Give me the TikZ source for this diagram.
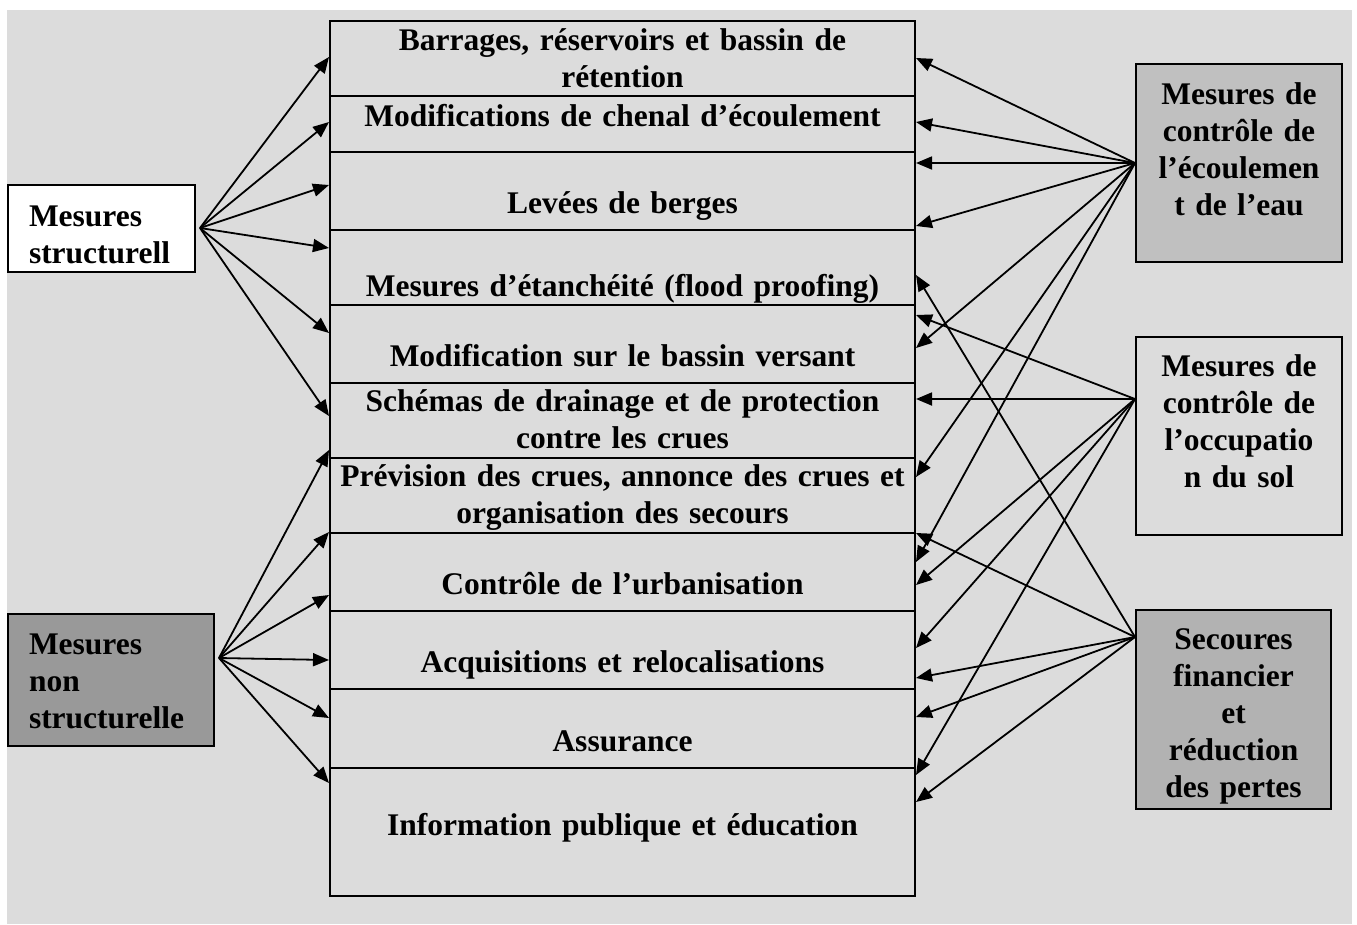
\documentclass[tikz,border=0pt]{standalone}
\usepackage{fontspec}
\setmainfont{Liberation Serif}
\usetikzlibrary{arrows.meta}
\definecolor{paper}{RGB}{220,220,220}
\definecolor{darkbox}{RGB}{153,153,153}
\definecolor{flowbox}{RGB}{192,192,192}
\definecolor{lossbox}{RGB}{178,178,178}
\tikzset{
	rowbox/.style 2 args={draw, line width=2pt, inner sep=0pt, text width=585pt, align=center, anchor=north, text height=#1, text depth=#2},
	sidebox/.style={draw, line width=2pt, inner ysep=0pt, text height=40pt, anchor=north west},
	arr/.style={line width=1.8pt, -{Triangle[length=16pt,width=13pt]}}
}

\begin{document}
\begin{tikzpicture}[x=1pt, y=-1pt, font=\fontsize{31.5}{37}\selectfont\bfseries]
		%%%%% START %%%%%
		\useasboundingbox (0,0) rectangle (1357,924);
		\fill[paper] (7,10) rectangle (1352,924);
		
		% the list of measures
		\node[rowbox={29pt}{46pt}] (r1) at (622.5,20) {Barrages, réservoirs et bassin de\\rétention};
		\node[rowbox={30pt}{26pt}] (r2) at (622.5,95) {Modifications de chenal d’écoulement};
		\node[rowbox={61pt}{17pt}] (r3) at (622.5,151) {Levées de berges};
		\node[rowbox={66pt}{9pt}] (r4) at (622.5,229) {Mesures d’étanchéité (flood proofing)};
		\node[rowbox={61pt}{17pt}] (r5) at (622.5,304) {Modification sur le bassin versant};
		\node[rowbox={28pt}{47pt}] (r6) at (622.5,382) {Schémas de drainage et de protection\\contre les crues};
		\node[rowbox={28pt}{47pt}] (r7) at (622.5,457) {Prévision des crues, annonce des crues et\\organisation des secours};
		\node[rowbox={61pt}{17pt}] (r8) at (622.5,532) {Contrôle de l’urbanisation};
		\node[rowbox={61pt}{17pt}] (r9) at (622.5,610) {Acquisitions et relocalisations};
		\node[rowbox={62pt}{17pt}] (r10) at (622.5,688) {Assurance};
		\node[rowbox={67pt}{61pt}] (r11) at (622.5,767) {Information publique et éducation};
		
		% left boxes
		\node[sidebox, fill=white, inner xsep=21pt, text width=145pt, align=left, text height=41pt, text depth=46pt] (struct) at (7,184) {Mesures\\structurell};
		\node[sidebox, fill=darkbox, inner xsep=21pt, text width=164pt, align=left, text depth=92pt] (nonstruct) at (7,613) {Mesures\\non\\structurelle};
		
		% right boxes
		\node[sidebox, fill=flowbox, inner xsep=10pt, text width=186pt, align=center, text depth=158pt] (flow) at (1135,63) {Mesures de\\contrôle de\\l’écoulemen\\t de l’eau};
		\node[sidebox, fill=paper, inner xsep=10pt, text width=186pt, align=center, text height=39pt, text depth=159pt] (occup) at (1135,336) {Mesures de\\contrôle de\\l’occupatio\\n du sol};
		\node[sidebox, fill=lossbox, inner xsep=10pt, text width=175pt, align=center, text height=39pt, text depth=160pt] (loss) at (1135,609) {Secoures\\financier\\et\\réduction\\des pertes};
		
		\coordinate (structout) at (200,228);
		\coordinate (nonout) at (219,658);
		\coordinate (flowout) at (1135,163);
		\coordinate (occupout) at (1135,399);
		\coordinate (lossout) at (1135,637);
		
		% structural
		\draw[arr] (structout) -- (r1.west |- 0,57);
		\draw[arr] (structout) -- (r2.west |- 0,122);
		\draw[arr] (structout) -- (r3.west |- 0,185);
		\draw[arr] (structout) -- (r4.west |- 0,248);
		\draw[arr] (structout) -- (r5.west |- 0,333);
		\draw[arr] (structout) -- (r6.west |- 0,416);
		
		% non structural
		\draw[arr] (nonout) -- (r6.west |- 0,450);
		\draw[arr] (nonout) -- (r8.west |- 0,532);
		\draw[arr] (nonout) -- (r8.west |- 0,595);
		\draw[arr] (nonout) -- (r9.west |- 0,660);
		\draw[arr] (nonout) -- (r10.west |- 0,718);
		\draw[arr] (nonout) -- (r11.west |- 0,783);
		
		% water flow
		\draw[arr] (flowout) -- (r1.east |- 0,58);
		\draw[arr] (flowout) -- (r2.east |- 0,122);
		\draw[arr] (flowout) -- (r3.east |- 0,163);
		\draw[arr] (flowout) -- (r3.east |- 0,226);
		\draw[arr] (flowout) -- (r5.east |- 0,348);
		\draw[arr] (flowout) -- (r7.east |- 0,477);
		\draw[arr] (flowout) -- (r8.east |- 0,562);
		
		% land use
		\draw[arr] (occupout) -- (r5.east |- 0,315);
		\draw[arr] (occupout) -- (r6.east |- 0,399);
		\draw[arr] (occupout) -- (r8.east |- 0,585);
		\draw[arr] (occupout) -- (r9.east |- 0,648);
		\draw[arr] (occupout) -- (r11.east |- 0,775);
		
		% losses
		\draw[arr] (lossout) -- (r4.east |- 0,275);
		\draw[arr] (lossout) -- (r8.east |- 0,533);
		\draw[arr] (lossout) -- (r9.east |- 0,678);
		\draw[arr] (lossout) -- (r10.east |- 0,717);
		\draw[arr] (lossout) -- (r11.east |- 0,802);
		
		%%%%% END %%%%%
	\end{tikzpicture}
\end{document}
